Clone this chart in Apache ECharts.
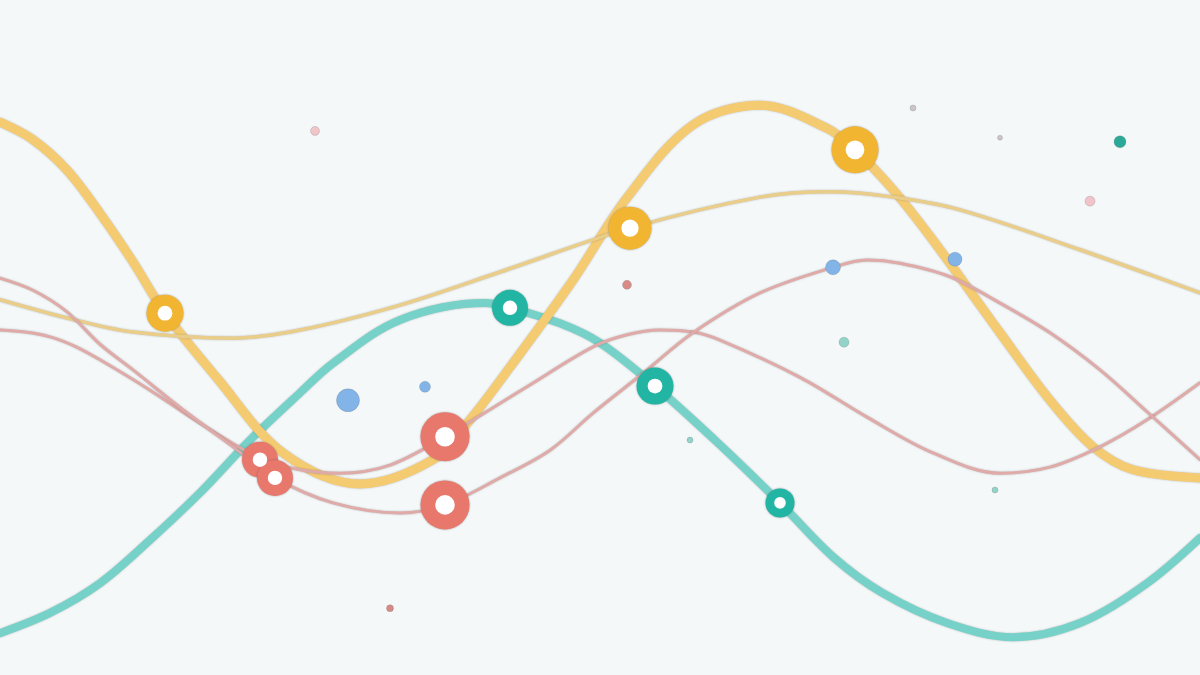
<!DOCTYPE html>
<html>
<head>
<meta charset="utf-8">
<script src="https://cdn.jsdelivr.net/npm/echarts@6/dist/echarts.min.js"></script>
<style>
html,body{margin:0;padding:0;background:#f4f8f9;}
#chart{width:1200px;height:675px;}
</style>
</head>
<body>
<div id="chart"></div>
<script>
// ---- data (x: 0..120, y: 0..100) ----
const goldWave = [[0,81.9],[3.3,79.3],[6.7,74.8],[10,68.4],[13.3,61.2],[16.5,53.6],[21.7,44.0],[28.3,32.9],[36,28.3],[43.3,31.9],[47,37.8],[51,45.6],[57.3,58.5],[62.7,70.7],[69.3,81.5],[76,84.4],[82.7,81.0],[85.5,77.8],[89.3,71.9],[93.3,64.4],[100,50.7],[105,40.7],[109.3,33.8],[113.3,30.4],[120,29.2]];
const sandWave = [[0,55.6],[6.7,52.9],[13.3,50.8],[23.3,49.9],[30,51.1],[40,54.8],[50,59.7],[63,66.2],[76,70.8],[83,71.6],[89.3,70.8],[96,68.9],[108,63.0],[120,56.6]];
const tealWave = [[0,6.2],[5,9.2],[10,13.6],[15,20.0],[20,27.0],[25,34.8],[30,41.8],[33.3,46.2],[40,52.6],[48.5,55.1],[51,54.4],[56,52.1],[60,49.2],[65.5,42.8],[72,34.1],[78,25.5],[83.3,17.5],[88.3,12.1],[94.7,7.7],[101.3,5.6],[108,7.7],[114.7,13.6],[120,20.3]];
const roseWaveA = [[0,51.1],[2.5,50.8],[5,50.1],[7.5,48.7],[10,46.7],[15,42.2],[20,37.3],[26,32.1],[30,30.4],[34,29.9],[39,31.1],[44.5,35.3],[52.7,42.7],[59.3,48.6],[62.7,50.4],[66,51.1],[69.3,50.8],[72,49.6],[80,44.1],[86.7,38.2],[93.3,32.9],[100,29.9],[105,30.8],[110,33.8],[114.7,37.8],[120,43.3]];
const roseWaveB = [[0,58.8],[3.3,57.0],[6.7,53.8],[10,49.0],[13.3,45.2],[18.3,39.3],[23.3,33.8],[27.5,29.2],[33.3,25.5],[40,24.0],[44.5,25.2],[50,29.2],[55,33.3],[59.3,38.8],[64.3,44.7],[69.3,50.7],[76,56.6],[83.3,60.4],[86.7,61.5],[90,61.0],[95,59.0],[100,55.1],[105,50.7],[110,45.2],[114.7,39.0],[120,31.9]];

// ring markers: [x, y, diameter]
const goldRings = [[16.5,53.6,37],[63,66.2,43],[85.5,77.8,47]];
const tealRings = [[51,54.4,36],[65.5,42.8,37],[78,25.5,29]];
const coralRings = [[26,31.9,36],[27.5,29.2,36],[44.5,35.3,49],[44.5,25.2,49]];

// scattered dots: [x, y, diameter]
const blushDots = [[31.5,80.6,9],[109,70.2,10]];
const skyDots = [[34.8,40.7,23],[42.5,42.7,11],[83.3,60.4,15],[95.5,61.6,14]];
const mintDots = [[84.4,49.3,10],[69,34.8,6],[99.5,27.4,6]];
const deepTealDots = [[112,79.0,12]];
const clayDots = [[62.7,57.8,9],[39,9.9,7]];
const mistDots = [[91.3,84.0,6],[100,79.6,5]];

// ---- chart ----
const edge = 'rgba(70,70,70,0.35)';
function wave(data, color, width, z){
  return {type:'line', data, smooth:0.34, showSymbol:false, silent:true, z,
    lineStyle:{color, width, cap:'round', shadowColor:edge, shadowBlur:2}};
}
function dots(data, color, z){
  return {type:'scatter', data, z, silent:true, symbolSize:(v)=>v[2],
    itemStyle:{color, opacity:1, borderColor:'rgba(90,90,90,0.25)', borderWidth:0.8}};
}
function rings(data, color){
  return [
    {type:'scatter', data, z:20, silent:true, symbolSize:(v)=>v[2],
     itemStyle:{color, opacity:1, shadowColor:'rgba(60,60,60,0.45)', shadowBlur:2}},
    {type:'scatter', data, z:21, silent:true, symbolSize:(v)=>v[2]*0.4,
     itemStyle:{color:'#ffffff', opacity:1}}
  ];
}

const chart = echarts.init(document.getElementById('chart'));
chart.setOption({
  animation:false,
  backgroundColor:'#f4f8f9',
  grid:{left:0,right:0,top:0,bottom:0},
  xAxis:{type:'value', min:0, max:120, show:false},
  yAxis:{type:'value', min:0, max:100, show:false},
  series:[
    wave(tealWave, '#76d2c9', 8, 2),
    wave(goldWave, '#f5cb72', 9, 3),
    wave(sandWave, '#eacd88', 3.5, 4),
    wave(roseWaveA, '#dfaaa8', 3, 5),
    wave(roseWaveB, '#dfaaa8', 3, 5),
    dots(blushDots, '#f1c4c9', 10),
    dots(skyDots, '#82b4e8', 10),
    dots(mintDots, '#93d3c9', 10),
    dots(deepTealDots, '#2aa898', 10),
    dots(clayDots, '#d88a86', 10),
    dots(mistDots, '#cbc4c8', 10),
    ...rings(goldRings, '#f1b532'),
    ...rings(tealRings, '#22b5a4'),
    ...rings(coralRings, '#e8776c')
  ]
});
</script>
</body>
</html>
